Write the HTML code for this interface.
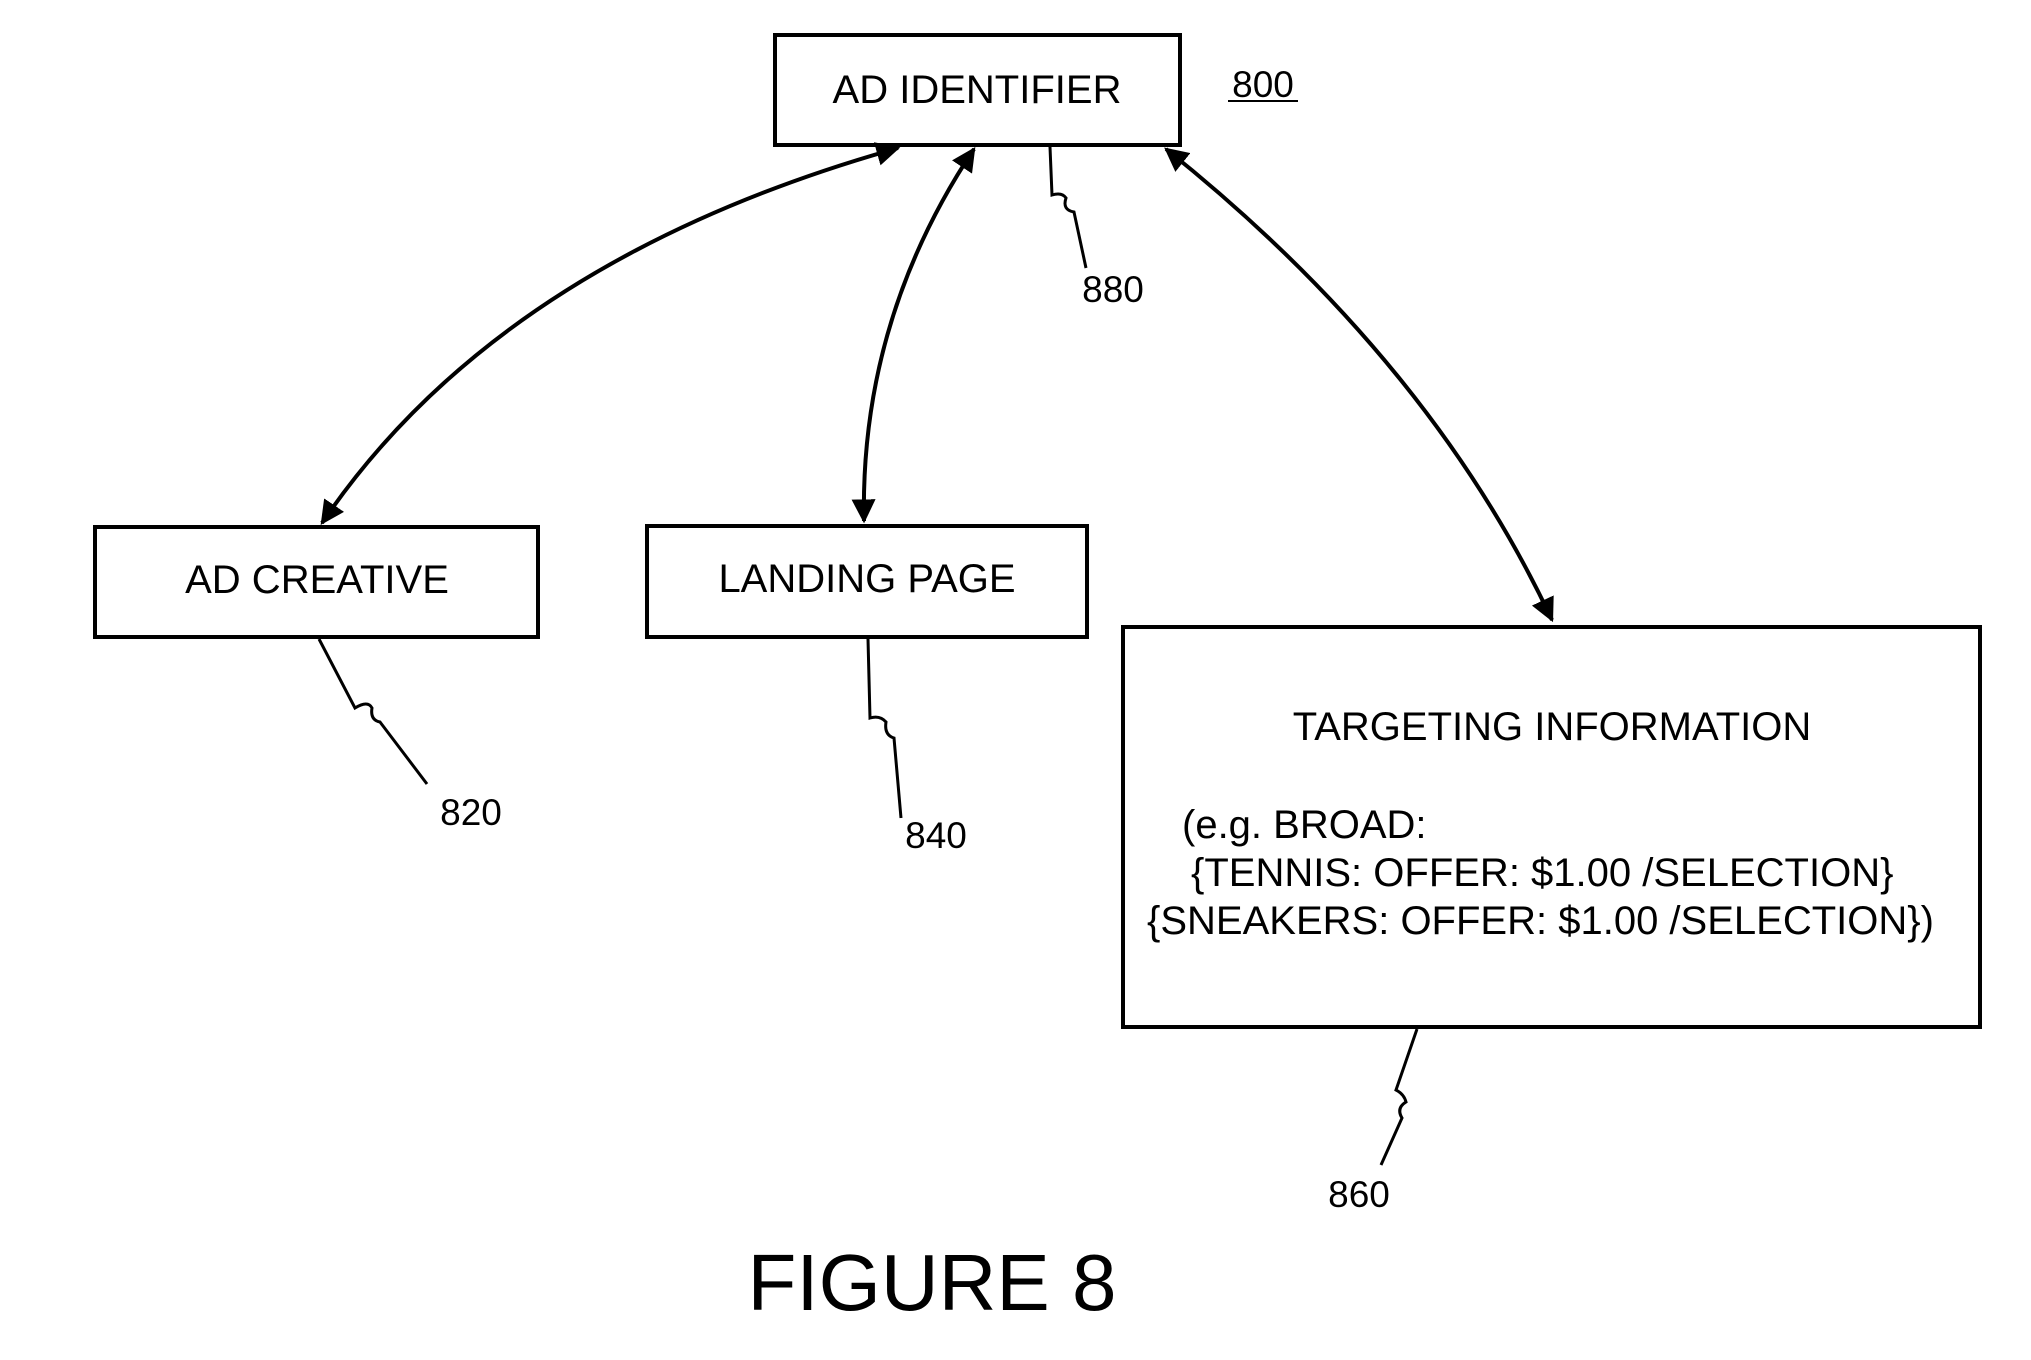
<!DOCTYPE html>
<html><head><style>body{margin:0;background:#fff}svg{display:block}text{font-family:"Liberation Sans",Arial,sans-serif;fill:#000}</style></head>
<body>
<svg width="2031" height="1360" viewBox="0 0 2031 1360" xmlns="http://www.w3.org/2000/svg">
<defs><marker id="a" viewBox="0 0 10 10" refX="9" refY="5" markerWidth="6" markerHeight="6" orient="auto-start-reverse"><path d="M0,0 L10,5 L0,10 z" fill="#000"/></marker></defs>
<g fill="none" stroke="#000" stroke-width="4">
<rect x="775" y="35" width="405" height="110"/>
<rect x="95" y="527" width="443" height="110"/>
<rect x="647" y="526" width="440" height="111"/>
<rect x="1123" y="627" width="857" height="400"/>
<path d="M898,148 Q500,260 322,523" marker-start="url(#a)" marker-end="url(#a)"/>
<path d="M974,149 Q860,320 864,521" marker-start="url(#a)" marker-end="url(#a)"/>
<path d="M1166,149 Q1430,360 1552,620" marker-start="url(#a)" marker-end="url(#a)"/>
<path d="M1050,147 L1052,195 Q1062,192 1066,198 Q1062,210 1074,212 L1086,268" stroke-width="3"/>
<path d="M319,639 L355,708 Q368,700 372,708 Q370,720 380,722 L427,784" stroke-width="3"/>
<path d="M868,639 L870,718 Q880,715 886,722 Q884,735 894,738 L901,818" stroke-width="3"/>
<path d="M1417,1029 L1396,1090 Q1404,1094 1406,1102 Q1396,1108 1402,1118 L1381,1165" stroke-width="3"/>
<path d="M1228,101 L1298,101" stroke-width="2"/>
</g>
<g font-size="40" text-anchor="middle">
<text x="977" y="103">AD IDENTIFIER</text>
<text x="317" y="593">AD CREATIVE</text>
<text x="867" y="592">LANDING PAGE</text>
<text x="1552" y="740">TARGETING INFORMATION</text>
</g>
<g font-size="40">
<text x="1182" y="838">(e.g. BROAD:</text>
<text x="1191" y="886">{TENNIS: OFFER: $1.00 /SELECTION}</text>
<text x="1147" y="934">{SNEAKERS: OFFER: $1.00 /SELECTION})</text>
</g>
<g font-size="37" text-anchor="middle">
<text x="1263" y="97">800</text>
<text x="1113" y="302">880</text>
<text x="471" y="825">820</text>
<text x="936" y="848">840</text>
<text x="1359" y="1207">860</text>
</g>
<text x="932" y="1310" font-size="80" text-anchor="middle">FIGURE 8</text>
</svg>
</body></html>
